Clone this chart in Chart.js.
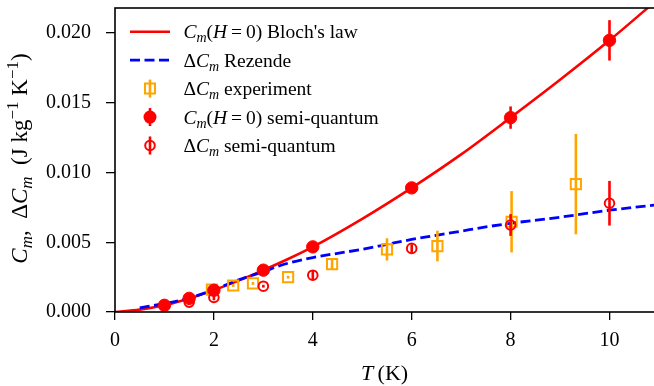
<!DOCTYPE html>
<html>
<head>
<meta charset="utf-8">
<script src="https://cdn.jsdelivr.net/npm/chart.js@4.4.1/dist/chart.umd.min.js"></script>
<style>
  html, body { margin: 0; padding: 0; background: #fff; }
  #wrap { width: 654px; height: 386px; position: relative; }
</style>
</head>
<body>
<div id="wrap"><canvas id="chart" width="654" height="386"></canvas></div>
<script>
// ======================================================
// DATOS
// ======================================================
const blochT = [0, 0.5, 1, 1.5, 2, 2.5, 3, 3.5, 4, 5, 6, 7, 8, 9, 10, 11];
const blochC = [0, 0.00017, 0.00048, 0.00097, 0.00157, 0.00225, 0.0030, 0.0038, 0.00467, 0.00668, 0.0089, 0.0113, 0.01394, 0.01665, 0.01948, 0.0225];

const rezendeT = [0.5, 1, 1.5, 2, 2.5, 3, 3.5, 4, 5, 5.5, 6, 6.5, 7, 7.5, 8, 9, 10, 11];
const rezendeC = [0.0003, 0.0006, 0.001, 0.0016, 0.0023, 0.0029, 0.0035, 0.0039, 0.0045, 0.00485, 0.0052, 0.0055, 0.0058, 0.0061, 0.00636, 0.0068, 0.0073, 0.0077];

const expT = [1.96, 2.39, 2.79, 3.5, 4.39, 5.5, 6.52, 8.02, 9.32];
const expC = [0.0016, 0.0019, 0.00205, 0.0025, 0.00343, 0.00449, 0.00473, 0.00647, 0.00917];
const expErr = [0.0001, 0.0001, 0.0001, 0.0001, 0.00035, 0.0008, 0.0011, 0.0022, 0.0036];

const sqT = [1, 1.5, 2, 3, 4, 6, 8, 10];
const sqC = [0.00048, 0.00098, 0.00156, 0.0030, 0.00467, 0.0089, 0.01394, 0.01948];
const sqErr = [0.0001, 0.0001, 0.0001, 0.0001, 0.0001, 0.0003, 0.0008, 0.00145];

const dsqT = [1.5, 2, 3, 4, 6, 8, 10];
const dsqC = [0.00071, 0.00104, 0.00185, 0.00264, 0.00456, 0.00624, 0.0078];
const dsqErr = [0.0002, 0.0002, 0.0001, 0.0003, 0.0003, 0.00078, 0.0016];

const xTicks = [0, 2, 4, 6, 8, 10];
const yTicks = [0, 0.005, 0.01, 0.015, 0.02];

const RED = "#ff0000";
const BLUE = "#0000ff";
const ORANGE = "#ffa500";
const SERIF = '"Liberation Serif", "Times New Roman", serif';

const toXY = (xs, ys) => xs.map((x, i) => ({ x: x, y: ys[i] }));

// ======================================================
// UTILIDAD: texto con cursiva / subíndices / superíndices
// partes: [texto, tipo]  tipo: n, i, sub, sup
// ======================================================
function richFont(kind, size) {
  const small = kind === "sub" || kind === "sup";
  const italic = kind === "i" || kind === "sub";
  return `${italic ? "italic " : ""}${small ? Math.round(size * 0.72) : size}px ${SERIF}`;
}

function richWidth(ctx, parts, size) {
  let w = 0;
  parts.forEach(([t, k]) => {
    ctx.font = richFont(k, size);
    w += ctx.measureText(t).width;
  });
  return w;
}

function drawRich(ctx, parts, x, y, size) {
  ctx.textAlign = "left";
  ctx.textBaseline = "alphabetic";
  parts.forEach(([t, k]) => {
    ctx.font = richFont(k, size);
    const dy = k === "sub" ? size * 0.22 : k === "sup" ? -size * 0.4 : 0;
    ctx.fillText(t, x, y + dy);
    x += ctx.measureText(t).width;
  });
}

const CM = [["C", "i"], ["m", "sub"]];
const DCM = [["\u0394", "n"], ["C", "i"], ["m", "sub"]];
const H0 = [["(", "n"], ["H", "i"], ["\u2009=\u20090)", "n"]];

const legendItems = [
  { kind: "line", color: RED, parts: [...CM, ...H0, [" Bloch's law", "n"]] },
  { kind: "dash", color: BLUE, parts: [...DCM, [" Rezende", "n"]] },
  { kind: "square", color: ORANGE, parts: [...DCM, [" experiment", "n"]] },
  { kind: "dot", color: RED, parts: [...CM, ...H0, [" semi-quantum", "n"]] },
  { kind: "ring", color: RED, parts: [...DCM, [" semi-quantum", "n"]] },
];

// ======================================================
// PLUGIN: barras de error, marco, leyenda y títulos
// ======================================================
const figurePlugin = {
  id: "figure",
  beforeDatasetDraw(chart, args) {
    const ds = chart.data.datasets[args.index];
    if (!ds.errors) return;
    const { ctx, chartArea, scales } = chart;
    ctx.save();
    ctx.beginPath();
    ctx.rect(chartArea.left, chartArea.top, chartArea.right - chartArea.left, chartArea.bottom - chartArea.top);
    ctx.clip();
    ctx.strokeStyle = ds.borderColor;
    ctx.lineWidth = 2.6;
    ds.data.forEach((p, i) => {
      const px = scales.x.getPixelForValue(p.x);
      ctx.beginPath();
      ctx.moveTo(px, scales.y.getPixelForValue(p.y - ds.errors[i]));
      ctx.lineTo(px, scales.y.getPixelForValue(p.y + ds.errors[i]));
      ctx.stroke();
    });
    ctx.restore();
  },
  afterDatasetsDraw(chart) {
    const { ctx, chartArea } = chart;
    ctx.save();
    ctx.strokeStyle = "#000";
    ctx.lineWidth = 1.6;
    ctx.strokeRect(chartArea.left, chartArea.top, chartArea.right - chartArea.left + 2, chartArea.bottom - chartArea.top);
    ctx.restore();
  },
  afterDraw(chart) {
    const { ctx, chartArea } = chart;
    ctx.save();
    ctx.fillStyle = "#000";

    // leyenda
    const rowY0 = 31.7, rowH = 28.45, fs = 19.5;
    legendItems.forEach((it, i) => {
      const y = rowY0 + i * rowH;
      ctx.strokeStyle = it.color;
      ctx.fillStyle = it.color;
      ctx.lineWidth = 2.6;
      if (it.kind === "line" || it.kind === "dash") {
        ctx.setLineDash(it.kind === "dash" ? [10, 4.5] : []);
        ctx.beginPath();
        ctx.moveTo(130, y);
        ctx.lineTo(170, y);
        ctx.stroke();
        ctx.setLineDash([]);
      } else {
        ctx.beginPath();
        ctx.moveTo(150, y - 9);
        ctx.lineTo(150, y + 9);
        ctx.stroke();
        ctx.lineWidth = 2;
        ctx.beginPath();
        if (it.kind === "square") {
          ctx.rect(145, y - 5, 10, 10);
          ctx.stroke();
        } else if (it.kind === "dot") {
          ctx.arc(150, y, 6.5, 0, Math.PI * 2);
          ctx.fill();
        } else {
          ctx.arc(150, y, 4.8, 0, Math.PI * 2);
          ctx.stroke();
        }
      }
      ctx.fillStyle = "#000";
      drawRich(ctx, it.parts, 183.5, y + 6.5, fs);
    });

    // título eje X
    const xParts = [["T", "i"], ["\u2009(K)", "n"]];
    const tf = 22;
    const cx = (chartArea.left + chartArea.right) / 2;
    drawRich(ctx, xParts, cx - richWidth(ctx, xParts, tf) / 2, 380, tf);

    // título eje Y
    const yf = 23;
    const yParts = [...CM, [",  ", "n"], ...DCM, ["  (J kg", "n"], ["\u22121", "sup"], [" K", "n"], ["\u22121", "sup"], [")", "n"]];
    ctx.translate(27, 158.5);
    ctx.rotate(-Math.PI / 2);
    drawRich(ctx, yParts, -richWidth(ctx, yParts, yf) / 2, 0, yf);
    ctx.restore();
  },
};

// ======================================================
// GRÁFICO
// ======================================================
const tickFont = { family: SERIF, size: 20 };

new Chart(document.getElementById("chart"), {
  type: "scatter",
  data: {
    datasets: [
      {
        label: "Bloch",
        data: toXY(blochT, blochC),
        showLine: true,
        borderColor: RED,
        borderWidth: 2.6,
        pointRadius: 0,
        cubicInterpolationMode: "monotone",
        order: 5,
      },
      {
        label: "Rezende",
        data: toXY(rezendeT, rezendeC),
        showLine: true,
        borderColor: BLUE,
        borderWidth: 2.8,
        borderDash: [10, 4.5],
        pointRadius: 0,
        cubicInterpolationMode: "monotone",
        order: 4,
      },
      {
        label: "experiment",
        data: toXY(expT, expC),
        errors: expErr,
        borderColor: ORANGE,
        backgroundColor: "rgba(0,0,0,0)",
        pointStyle: "rect",
        pointRadius: 7.2,
        pointBorderWidth: 2,
        order: 3,
      },
      {
        label: "semi-quantum H=0",
        data: toXY(sqT, sqC),
        errors: sqErr,
        borderColor: RED,
        backgroundColor: RED,
        pointRadius: 6.2,
        pointBorderWidth: 1,
        order: 2,
      },
      {
        label: "semi-quantum delta",
        data: toXY(dsqT, dsqC),
        errors: dsqErr,
        borderColor: RED,
        backgroundColor: "rgba(0,0,0,0)",
        pointRadius: 4.8,
        pointBorderWidth: 2,
        order: 1,
      },
    ],
  },
  options: {
    responsive: false,
    animation: false,
    devicePixelRatio: 1,
    layout: { autoPadding: false, padding: { top: 8, right: 0, left: 0, bottom: 0 } },
    plugins: { legend: { display: false }, tooltip: { enabled: false } },
    scales: {
      x: {
        type: "linear",
        min: 0,
        max: 10.9,
        border: { display: false },
        grid: { drawOnChartArea: false, drawTicks: true, tickLength: 8, color: "#000", lineWidth: 1.3 },
        ticks: { font: tickFont, color: "#000", padding: 9, maxRotation: 0, callback: (v) => String(v) },
        afterBuildTicks: (s) => { s.ticks = xTicks.map((v) => ({ value: v })); },
        afterFit: (s) => { s.height = 74; s.paddingLeft = 0; s.paddingRight = 0; },
      },
      y: {
        type: "linear",
        min: 0,
        max: 0.0218,
        border: { display: false },
        grid: { drawOnChartArea: false, drawTicks: true, tickLength: 9, color: "#000", lineWidth: 1.3 },
        ticks: { font: tickFont, color: "#000", padding: 15, callback: (v) => v.toFixed(3) },
        afterBuildTicks: (s) => { s.ticks = yTicks.map((v) => ({ value: v })); },
        afterFit: (s) => { s.width = 115; s.paddingTop = 0; s.paddingBottom = 0; },
      },
    },
  },
  plugins: [figurePlugin],
});
</script>
</body>
</html>
